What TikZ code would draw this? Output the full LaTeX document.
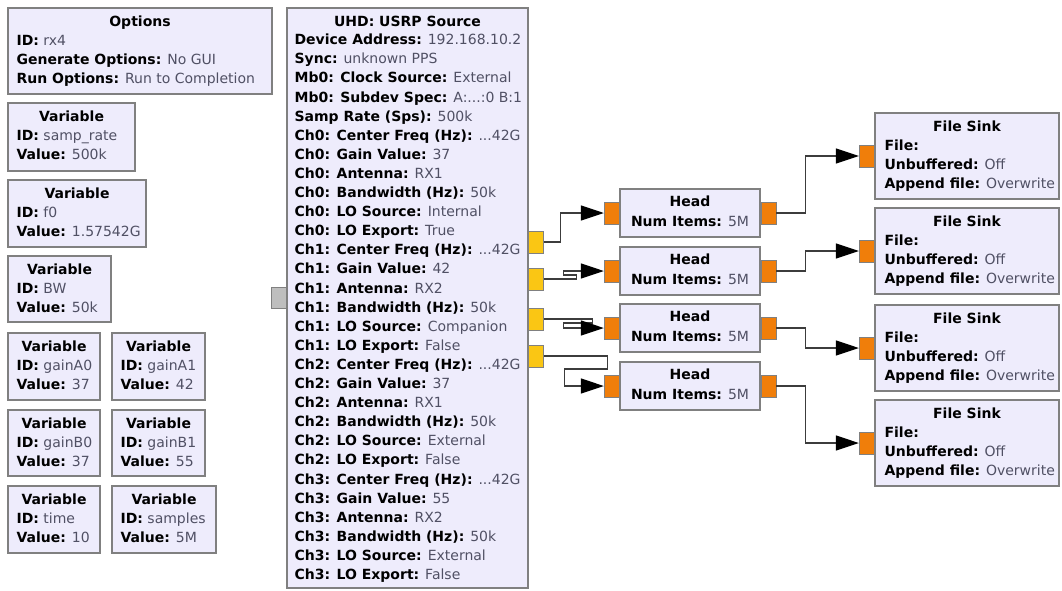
\documentclass[tikz,border=0pt]{standalone}
\usepackage{fontspec}
\setmainfont{DejaVu Sans}
\usepackage{xcolor}
\usetikzlibrary{arrows.meta, positioning, fit}
\definecolor{grcfill}{RGB}{238,236,252}
\definecolor{grcborder}{RGB}{128,128,128}
\definecolor{grcyellow}{RGB}{250,198,20}
\definecolor{grcorange}{RGB}{240,126,10}
\definecolor{grcgray}{RGB}{190,190,190}
\definecolor{grcval}{RGB}{80,80,100}
\definecolor{grcwire}{RGB}{60,60,60}
\newcommand{\kv}[2]{\textbf{#1:} {\color{grcval}#2}}
% variable block: name, nw corner, se corner, id, value
\newcommand{\grcvar}[5]{%
  \node[blk, fit={#2 #3}] (#1) {};
  \node[ttl] (#1-t) at ([yshift=-19pt]#1.north) {Variable};
  \node[txt] (#1-b) at ([xshift=9pt, yshift=-27.5pt]#1.north west) {\kv{ID}{#4}\\\kv{Value}{#5}};}

\begin{document}
\begin{tikzpicture}[x=1pt, y=-1pt,
  every node/.style={font=\fontsize{14}{19.1}\selectfont},
  blk/.style={draw=grcborder, fill=grcfill, line width=1.2pt, inner sep=0pt},
  ttl/.style={anchor=base, inner sep=0pt, font=\fontsize{14}{19.1}\selectfont\bfseries},
  txt/.style={anchor=north west, align=left, inner sep=0pt},
  port/.style={draw=grcborder, line width=0.6pt, minimum width=15pt, minimum height=22pt, inner sep=0pt},
  inport/.style={port, fill=grcorange},
  outport/.style={port, fill=grcyellow},
  conn/.style={draw=grcwire, line width=1.2pt, -{Triangle[length=23pt, width=15pt, color=black]}}]
\useasboundingbox (0,0) rectangle (1062,590);

% options and variables
\node[blk, fit={(8,8) (272,94)}] (opts) {};
\node[ttl] (opts-t) at ([yshift=-19pt]opts.north) {Options};
\node[txt] (opts-b) at ([xshift=9pt, yshift=-27.5pt]opts.north west)
  {\kv{ID}{rx4}\\\kv{Generate Options}{No GUI}\\\kv{Run Options}{Run to Completion}};

\grcvar{vrate}{(8,103)}{(135,171)}{samp\_rate}{500k}
\grcvar{vfreq}{(8,180)}{(146,247)}{f0}{1.57542G}
\grcvar{vbw}{(8,256)}{(111,322)}{BW}{50k}
\grcvar{vga0}{(8,333)}{(100,400)}{gainA0}{37}
\grcvar{vga1}{(112,333)}{(205,400)}{gainA1}{42}
\grcvar{vgb0}{(8,410)}{(100,476)}{gainB0}{37}
\grcvar{vgb1}{(112,410)}{(205,476)}{gainB1}{55}
\grcvar{vtime}{(8,486)}{(100,553)}{time}{10}
\grcvar{vsamp}{(112,486)}{(216,553)}{samples}{5M}

% usrp source
\node[blk, fit={(287,8) (528,588)}] (usrp) {};
\node[ttl] (usrp-t) at ([yshift=-19pt]usrp.north) {UHD: USRP Source};
\node[txt] (usrp-b) at ([xshift=8pt, yshift=-26.5pt]usrp.north west)
  {\kv{Device Address}{192.168.10.2}\\
   \kv{Sync}{unknown PPS}\\
   \kv{Mb0: Clock Source}{External}\\
   \kv{Mb0: Subdev Spec}{A:...:0 B:1}\\
   \kv{Samp Rate (Sps)}{500k}\\
   \kv{Ch0: Center Freq (Hz)}{...42G}\\
   \kv{Ch0: Gain Value}{37}\\
   \kv{Ch0: Antenna}{RX1}\\
   \kv{Ch0: Bandwidth (Hz)}{50k}\\
   \kv{Ch0: LO Source}{Internal}\\
   \kv{Ch0: LO Export}{True}\\
   \kv{Ch1: Center Freq (Hz)}{...42G}\\
   \kv{Ch1: Gain Value}{42}\\
   \kv{Ch1: Antenna}{RX2}\\
   \kv{Ch1: Bandwidth (Hz)}{50k}\\
   \kv{Ch1: LO Source}{Companion}\\
   \kv{Ch1: LO Export}{False}\\
   \kv{Ch2: Center Freq (Hz)}{...42G}\\
   \kv{Ch2: Gain Value}{37}\\
   \kv{Ch2: Antenna}{RX1}\\
   \kv{Ch2: Bandwidth (Hz)}{50k}\\
   \kv{Ch2: LO Source}{External}\\
   \kv{Ch2: LO Export}{False}\\
   \kv{Ch3: Center Freq (Hz)}{...42G}\\
   \kv{Ch3: Gain Value}{55}\\
   \kv{Ch3: Antenna}{RX2}\\
   \kv{Ch3: Bandwidth (Hz)}{50k}\\
   \kv{Ch3: LO Source}{External}\\
   \kv{Ch3: LO Export}{False}};
\node[port, fill=grcgray, anchor=east, minimum height=21pt] (usrp-in) at (287,298) {};
\foreach \i/\c in {0/242, 1/279, 2/319, 3/356}
  \node[outport, anchor=west] (s\i) at (528,\c) {};

% head blocks
\foreach \n/\y in {1/189, 2/247, 3/304, 4/362} {
  \node[blk, fit={(620,\y) (760,{\y+48})}] (h\n) {};
  \node[ttl] (h\n-t) at ([yshift=-18pt]h\n.north) {Head};
  \node[ttl, font=\fontsize{14}{19.1}\selectfont] (h\n-b) at ([yshift=-38pt]h\n.north) {\kv{Num Items}{5M}};
  \node[inport, anchor=east] (hin\n) at (h\n.west) {};
  \node[inport, anchor=west] (hout\n) at (h\n.east) {};
}

% file sinks
\foreach \n/\y in {1/113, 2/208, 3/305, 4/400} {
  \node[blk, fit={(875,\y) (1059,{\y+86})}] (f\n) {};
  \node[ttl] (f\n-t) at ([yshift=-19pt]f\n.north) {File Sink};
  \node[txt] (f\n-b) at ([xshift=10pt, yshift=-27.5pt]f\n.north west)
    {\kv{File}{}\\\kv{Unbuffered}{Off}\\\kv{Append file}{Overwrite}};
  \node[inport, anchor=east] (fin\n) at (f\n.west) {};
}

% connections
\draw[conn] (s0.east) -- ++(17,0) |- (hin1.west);
\draw[conn] (s1.east) -- ++(33,0) -- ++(0,-4) -- ++(-13,0) |- (hin2.west);
\draw[conn] (s2.east) -- ++(49,0) -- ++(0,4) -- ++(-29,0) |- (hin3.west);
\draw[conn] (s3.east) -- ++(64,0) -- ++(0,13) -- ++(-43,0) |- (hin4.west);
\foreach \n in {1,...,4}
  \draw[conn] (hout\n.east) -- ++(29,0) |- (fin\n.west);
\end{tikzpicture}
\end{document}
